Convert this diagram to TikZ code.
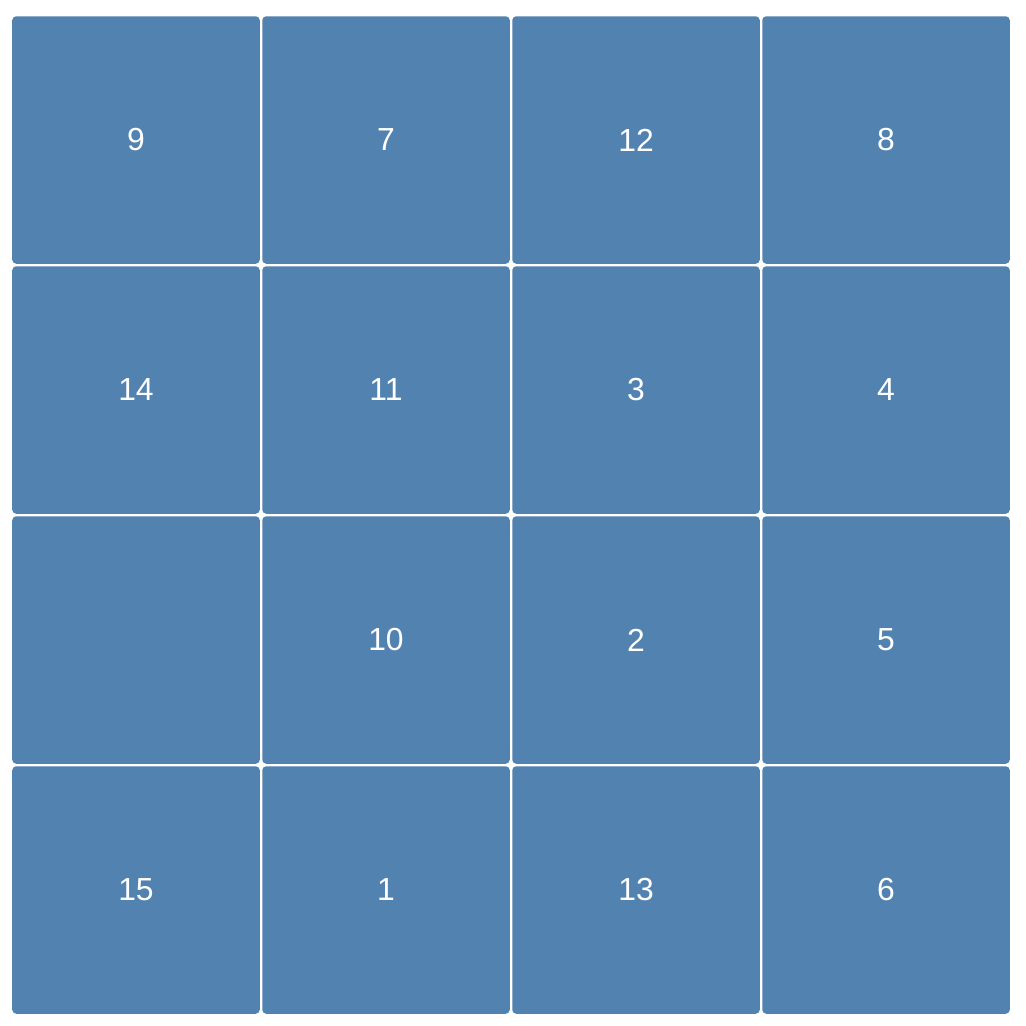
\documentclass[tikz,border=0pt]{standalone}
\usepackage{fontspec}
\setsansfont{Liberation Sans}
\definecolor{tileblue}{RGB}{82,130,176}

\begin{document}
\begin{tikzpicture}[x=1bp, y=-1bp]
  % Define styles
  \tikzstyle{tile} = [rectangle, fill=tileblue, rounded corners=4bp, minimum width=247.5bp, minimum height=247.5bp, inner sep=0pt, text=white, font=\sffamily\fontsize{32}{38}\selectfont]

  \useasboundingbox[fill=white] (0,0) rectangle (1026,1026);

  % Row 1
  \node[tile] (t9) at (136, 140) {9};
  \node[tile] (t7) at (386, 140) {7};
  \node[tile] (t12) at (636, 140) {12};
  \node[tile] (t8) at (886, 140) {8};

  % Row 2
  \node[tile] (t14) at (136, 390) {14};
  \node[tile] (t11) at (386, 390) {11};
  \node[tile] (t3) at (636, 390) {3};
  \node[tile] (t4) at (886, 390) {4};

  % Row 3
  \node[tile] (blank) at (136, 640) {};
  \node[tile] (t10) at (386, 640) {10};
  \node[tile] (t2) at (636, 640) {2};
  \node[tile] (t5) at (886, 640) {5};

  % Row 4
  \node[tile] (t15) at (136, 890) {15};
  \node[tile] (t1) at (386, 890) {1};
  \node[tile] (t13) at (636, 890) {13};
  \node[tile] (t6) at (886, 890) {6};

\end{tikzpicture}
\end{document}
